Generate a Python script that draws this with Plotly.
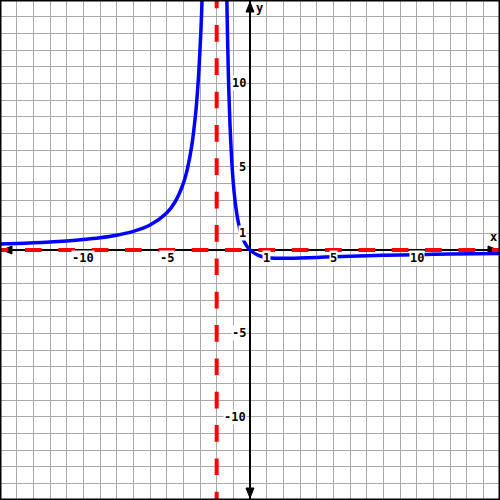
import plotly.graph_objects as go

# ---- data ----
X_RANGE = [-15, 15]
Y_RANGE = [-15, 15]

left_x = [-15, -14, -13, -12, -11, -10, -9, -8, -7, -6, -5, -4.5, -4, -3.75, -3.5, -3.25, -3.1, -3, -2.9, -2.8, -2.7]
left_y = [0.355, 0.389, 0.43, 0.48, 0.543, 0.625, 0.735, 0.889, 1.12, 1.5, 2.22, 2.88, 4.0, 4.9, 6.22, 8.32, 10.25, 12.0, 14.32, 17.5, 22.0]

right_x = [-1.5, -1.45, -1.4, -1.3, -1.2, -1.1, -1.0, -0.9, -0.8, -0.7, -0.6, -0.4, -0.2, 0, 0.5, 1, 1.5, 2, 3, 4, 5, 6, 8, 10, 12, 15]
right_y = [24.0, 19.2, 15.56, 10.61, 7.5, 5.43, 4.0, 2.98, 2.22, 1.66, 1.22, 0.625, 0.247, 0.0, -0.32, -0.444, -0.49, -0.5, -0.48, -0.444, -0.408, -0.375, -0.32, -0.278, -0.245, -0.208]

v_asym_x = -2
h_asym_y = 0

x_tick_vals = [-10, -5, 1, 5, 10]
x_tick_text = ["-10", "-5", "1", "5", "10"]
y_tick_vals = [10, 5, 1, -5, -10]
y_tick_text = ["10", "5", "1", "-5", "-10"]

# ---- styles ----
FONT = dict(family="DejaVu Sans Mono", size=12, color="black", weight="bold")
GRID = "#aaaaaa"
BLUE = "#0000ff"
RED = "#ff0000"
DASH = "16.67px,16.67px"
W = 500
U = (X_RANGE[1] - X_RANGE[0]) / W  # data units per pixel
EXT = 0.5  # how far dashed asymptotes start outside the range

fig = go.Figure()

fig.add_trace(go.Scatter(x=left_x, y=left_y, mode="lines",
                         line=dict(color=BLUE, width=3.5, shape="spline", smoothing=0.8),
                         hoverinfo="skip", showlegend=False))
fig.add_trace(go.Scatter(x=right_x, y=right_y, mode="lines",
                         line=dict(color=BLUE, width=3.5, shape="spline", smoothing=0.8),
                         hoverinfo="skip", showlegend=False))

# asymptotes
fig.add_trace(go.Scatter(x=[X_RANGE[0] - EXT, X_RANGE[1] + EXT], y=[h_asym_y, h_asym_y],
                         mode="lines", line=dict(color=RED, width=4, dash=DASH),
                         hoverinfo="skip", showlegend=False))
fig.add_trace(go.Scatter(x=[v_asym_x, v_asym_x], y=[Y_RANGE[1] + EXT, Y_RANGE[0] - EXT],
                         mode="lines", line=dict(color=RED, width=4, dash=DASH),
                         hoverinfo="skip", showlegend=False))

shapes = []
# arrowheads on the axes
tip, base, half = 2 * U, 12 * U, 4 * U
x0, x1 = X_RANGE
y0, y1 = Y_RANGE
arrow_paths = [
    f"M{x0+tip},0 L{x0+base},{half} L{x0+base},{-half} Z",
    f"M{x1-tip},0 L{x1-base},{half} L{x1-base},{-half} Z",
    f"M0,{y1-tip} L{half},{y1-base} L{-half},{y1-base} Z",
    f"M0,{y0+tip} L{half},{y0+base} L{-half},{y0+base} Z",
]
for p in arrow_paths:
    shapes.append(dict(type="path", path=p, xref="x", yref="y", fillcolor="black",
                       line=dict(color="black", width=1), layer="between"))
# frame
shapes.append(dict(type="rect", xref="paper", yref="paper", x0=0, y0=0, x1=1, y1=1,
                   line=dict(color="black", width=3), layer="above"))

annotations = []
for v, t in zip(x_tick_vals, x_tick_text):
    annotations.append(dict(x=v, y=0, xref="x", yref="y", text=t, showarrow=False,
                            xanchor="center", yanchor="middle", yshift=-8, font=FONT,
                            bgcolor="white", borderpad=0))
for v, t in zip(y_tick_vals, y_tick_text):
    annotations.append(dict(x=0, y=v, xref="x", yref="y", text=t, showarrow=False,
                            xanchor="right", yanchor="middle", xshift=-3, font=FONT,
                            bgcolor="white", borderpad=0))
annotations.append(dict(x=14.6, y=0.78, xref="x", yref="y", text="x", showarrow=False,
                        xanchor="center", yanchor="middle", font=FONT))
annotations.append(dict(x=0.55, y=14.55, xref="x", yref="y", text="y", showarrow=False,
                        xanchor="center", yanchor="middle", font=FONT))

axis_common = dict(showgrid=True, gridcolor=GRID, gridwidth=1, dtick=1, tick0=0,
                   zeroline=True, zerolinecolor="black", zerolinewidth=2,
                   showticklabels=False, ticks="", showline=False, fixedrange=True)

fig.update_layout(
    width=W, height=W, margin=dict(l=0, r=0, t=0, b=0, pad=0),
    paper_bgcolor="white", plot_bgcolor="white",
    xaxis=dict(range=X_RANGE, **axis_common),
    yaxis=dict(range=Y_RANGE, **axis_common),
    shapes=shapes, annotations=annotations, showlegend=False,
)

fig.write_html("out.html", config={"displayModeBar": False},
               post_script="document.body.style.margin='0';document.body.style.padding='0';")
